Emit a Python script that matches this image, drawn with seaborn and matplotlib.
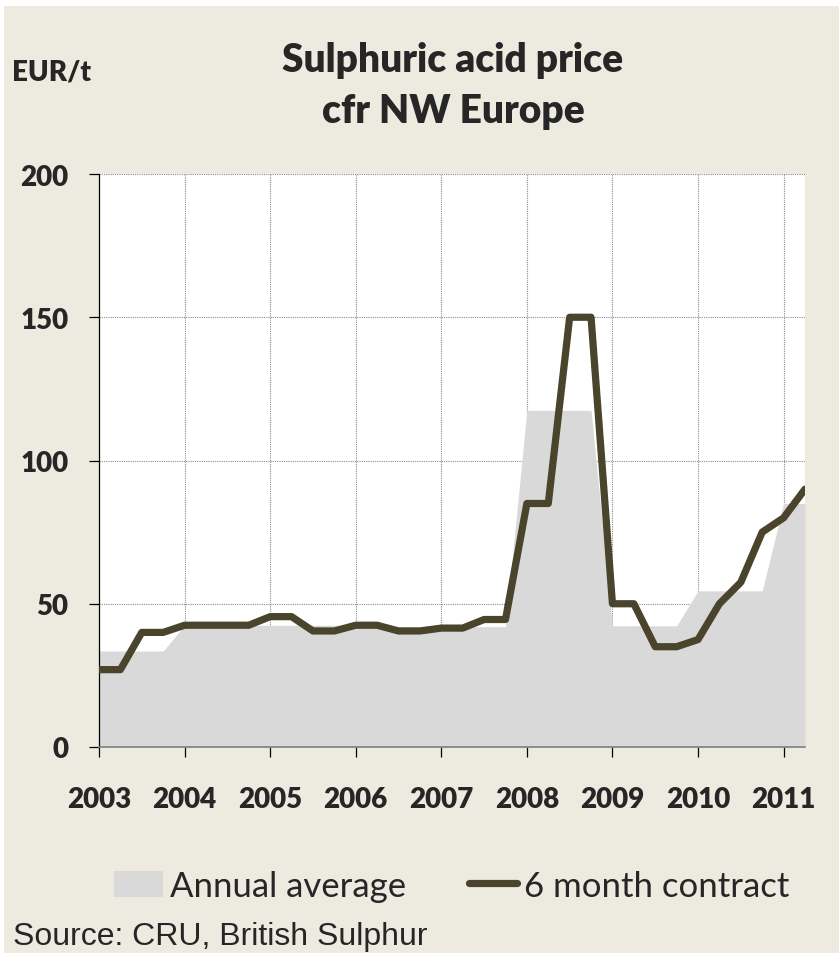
import matplotlib
matplotlib.use("Agg")
from matplotlib import pyplot as plt
from matplotlib.patches import Patch, Rectangle
from matplotlib.lines import Line2D
import seaborn as sns
import pandas as pd

# dane kwartalne, 2003 Q1 .. 2011 Q2
quarters = [2003.0, 2003.25, 2003.5, 2003.75,
            2004.0, 2004.25, 2004.5, 2004.75,
            2005.0, 2005.25, 2005.5, 2005.75,
            2006.0, 2006.25, 2006.5, 2006.75,
            2007.0, 2007.25, 2007.5, 2007.75,
            2008.0, 2008.25, 2008.5, 2008.75,
            2009.0, 2009.25, 2009.5, 2009.75,
            2010.0, 2010.25, 2010.5, 2010.75,
            2011.0, 2011.25]
contract_6m = [27, 27, 40, 40,
               42.5, 42.5, 42.5, 42.5,
               45.5, 45.5, 40.5, 40.5,
               42.5, 42.5, 40.5, 40.5,
               41.5, 41.5, 44.5, 44.5,
               85, 85, 150, 150,
               50, 50, 35, 35,
               37.5, 50, 57.5, 75,
               80, 90]
years = [2003, 2004, 2005, 2006, 2007, 2008, 2009, 2010, 2011]
annual_avg = [33.5, 42.5, 42.5, 42, 42, 117.5, 42.3, 54.5, 85]

df = pd.DataFrame({'quarter': quarters, 'contract': contract_6m})
df['year'] = df['quarter'].astype(int)
df['annual'] = df['year'].map(dict(zip(years, annual_avg)))

BG = '#EDEAE0'
AREA = '#D9D9D9'
LINE = '#4A442D'
HEAVY = 'heavy'

sns.set_style("white")
plt.rcParams['font.family'] = ['Lato', 'DejaVu Sans']

fig = plt.figure(figsize=(8.39, 9.54), dpi=100, facecolor='white')
fig.patches.append(Rectangle((4 / 839, 0), 1, 1 - 7 / 954, transform=fig.transFigure,
                             facecolor=BG, edgecolor='none', zorder=-10))

ax = fig.add_axes([99 / 839, 206 / 954, 706 / 839, 573 / 954])
ax.set_facecolor('white')
ax.set_axisbelow(True)

ax.fill_between(df['quarter'], df['annual'], color=AREA, lw=0, zorder=1)
sns.lineplot(data=df, x='quarter', y='contract', color=LINE, lw=5.2, ax=ax,
             solid_joinstyle='round', solid_capstyle='round', zorder=3)

ax.set_xlim(2003, 2011.25)
ax.set_ylim(0, 200)
ax.set_xticks(years)
ax.set_yticks([0, 50, 100, 150, 200])
ax.grid(True, color='#8C8C8C', linestyle=(0, (1, 1)), linewidth=0.8, zorder=0.5)

for side in ['top', 'right']:
    ax.spines[side].set_visible(False)
ax.spines['left'].set_color('black')
ax.spines['left'].set_linewidth(0.9)
ax.spines['bottom'].set_color('#7F7F7F')
ax.spines['bottom'].set_linewidth(1.2)

ax.tick_params(axis='y', direction='out', length=7, width=0.9, color='black', pad=15,
               left=True, labelsize=20)
ax.tick_params(axis='x', direction='out', length=7, width=0.9, color='black', pad=21,
               bottom=True, labelsize=20)
for lab in ax.get_xticklabels() + ax.get_yticklabels():
    lab.set_fontweight(HEAVY)
ax.set_xlabel('')
ax.set_ylabel('')

fig.text(453 / 839, 1 - 86 / 954, 'Sulphuric acid price\ncfr NW Europe', ha='center',
         va='center', fontsize=28, fontweight=HEAVY, linespacing=1.45)
fig.text(52 / 839, 1 - 73 / 954, 'EUR/t', ha='center', va='center', fontsize=20,
         fontweight=HEAVY)

handles = [Patch(facecolor=AREA, edgecolor='none'),
           Line2D([], [], color=LINE, lw=5.2, solid_capstyle='round')]
fig.legend(handles, ['Annual average', '6 month contract'], loc='center',
           bbox_to_anchor=(452 / 839, 1 - 887 / 954), ncol=2, frameon=False,
           fontsize=25, handlelength=1.4, handleheight=0.8, handletextpad=0.2,
           columnspacing=1.8)

fig.text(13 / 839, 1 - 945 / 954, 'Source: CRU, British Sulphur', ha='left',
         va='baseline', fontsize=23, family=['Liberation Sans', 'DejaVu Sans'])

fig.savefig('out.png', dpi=100)
